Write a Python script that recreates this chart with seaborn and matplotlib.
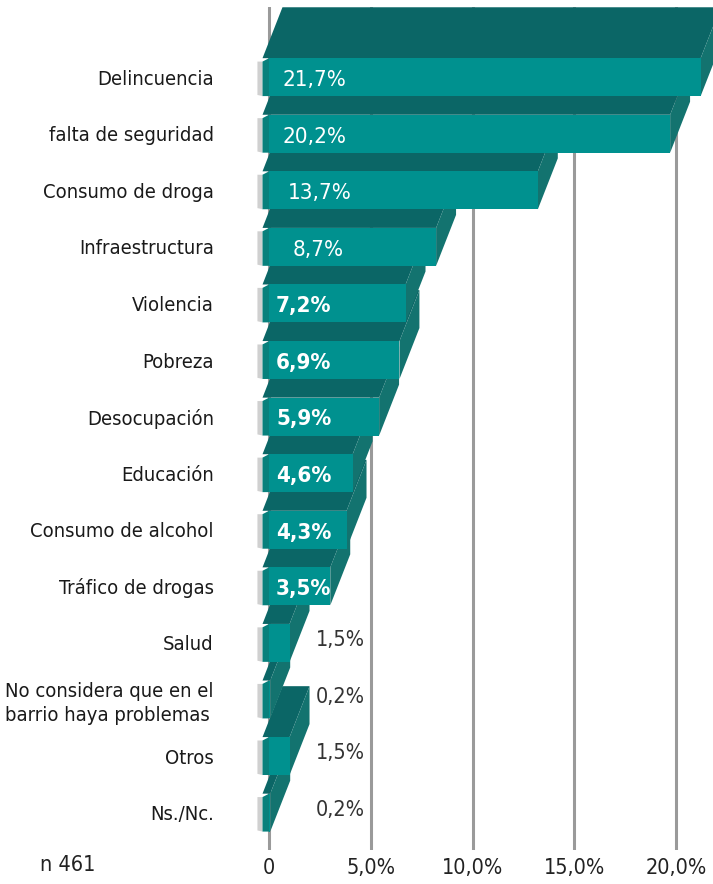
import matplotlib
matplotlib.use("Agg")
import matplotlib.pyplot as plt
from matplotlib.patches import Polygon
import seaborn as sns

categories = [
    "Delincuencia",
    "falta de seguridad",
    "Consumo de droga",
    "Infraestructura",
    "Violencia",
    "Pobreza",
    "Desocupación",
    "Educación",
    "Consumo de alcohol",
    "Tráfico de drogas",
    "Salud",
    "No considera que en el\nbarrio haya problemas",
    "Otros",
    "Ns./Nc.",
]
values = [21.7, 20.2, 13.7, 8.7, 7.2, 6.9, 5.9, 4.6, 4.3, 3.5, 1.5, 0.2, 1.5, 0.2]
value_labels = ["21,7%", "20,2%", "13,7%", "8,7%", "7,2%", "6,9%", "5,9%",
                "4,6%", "4,3%", "3,5%", "1,5%", "0,2%", "1,5%", "0,2%"]
xticks = [0, 5, 10, 15, 20]
xtick_labels = ["0", "5,0%", "10,0%", "15,0%", "20,0%"]
sample_note = "n 461"

FRONT = "#00918f"
TOP = "#0b6666"
SIDE = "#13736f"
LEFT = "#08807c"
GRID = "#9a9a9a"

sns.set_style("white")
plt.rcParams["font.family"] = ["DejaVu Sans"]
plt.rcParams["font.stretch"] = "condensed"

fig = plt.figure(figsize=(7.13, 8.84), dpi=100)
ax = fig.add_axes([0.3602, 0.0385, 0.6399, 0.9536])

sns.barplot(x=values, y=categories, orient="h", color=FRONT, saturation=1,
            width=0.67, ax=ax)

# 3D look: value sits at the middle of the bar depth
dx, dy, lw_ = 0.98, 0.9, 0.32
n = len(values)
for i, p in enumerate(ax.patches):
    z = 10 + (n - i) * 5
    top = p.get_y()
    bot = p.get_y() + p.get_height()
    v = max(p.get_width() - dx / 2, 0.06)
    p.set_width(v)
    ax.add_patch(Polygon([(-lw_, top), (v, top), (v + dx, top - dy), (-lw_ + dx, top - dy)],
                         closed=True, fc=TOP, ec="none", zorder=z))
    ax.add_patch(Polygon([(v, top), (v + dx, top - dy), (v + dx, bot - dy), (v, bot)],
                         closed=True, fc=SIDE, ec="none", zorder=z + 1))
    ax.add_patch(Polygon([(-lw_ - 0.25, top + 0.06), (-lw_, top + 0.06), (-lw_, bot), (-lw_ - 0.25, bot - 0.02)],
                         closed=True, fc="#bdbdbd", ec="none", alpha=0.7, zorder=z + 1))
    ax.add_patch(Polygon([(-lw_, top + 0.06), (0, top), (0, bot), (-lw_, bot)],
                         closed=True, fc=LEFT, ec="none", zorder=z + 2))
    p.set_zorder(z + 3)
    p.set_edgecolor("none")

    if values[i] >= 3:
        weight = "normal" if i < 4 else "bold"
        xpos = [0.64, 0.64, 0.93, 1.18][i] if i < 4 else 0.34
        ax.text(xpos, top + p.get_height() / 2 + 0.05,
                value_labels[i], ha="left", va="center", color="white",
                fontsize=16, fontweight=weight, zorder=200)
    else:
        ax.text(2.3, top + p.get_height() / 2 - 0.05, value_labels[i], ha="left",
                va="center", color="#333333", fontsize=15.5, zorder=200)

ax.set_xlim(-0.6, 21.82)
ax.set_ylim(13.66, -1.24)
ax.set_xticks(xticks)
ax.set_xticklabels(xtick_labels)
ax.grid(axis="x", color=GRID, lw=2.2, zorder=0)
ax.grid(axis="y", visible=False)
ax.set_axisbelow(True)
for s in ax.spines.values():
    s.set_visible(False)
ax.tick_params(axis="x", length=0, pad=6, labelsize=15.5, labelcolor="#222222")
ax.tick_params(axis="y", length=0, pad=31, labelsize=14.5, labelcolor="#1a1a1a")
for lab in ax.get_yticklabels():
    lab.set_multialignment("left")
    lab.set_linespacing(1.3)
ax.set_xlabel("")
ax.set_ylabel("")

fig.text(40 / 713, 1 - 865 / 884, sample_note, ha="left", va="center",
         fontsize=15.5, color="#222222")

fig.savefig("out.png", dpi=100)
